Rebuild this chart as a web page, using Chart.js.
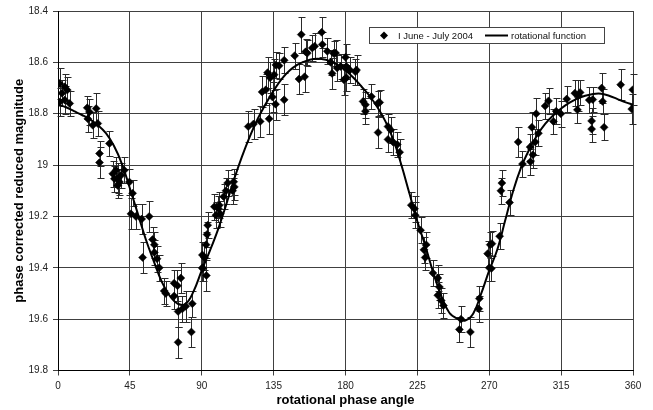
<!DOCTYPE html>
<html>
<head>
<meta charset="utf-8">
<script src="https://cdn.jsdelivr.net/npm/chart.js@4/dist/chart.umd.min.js"></script>
<style>
  body { margin: 0; background: #fff; }
  #wrap { width: 653px; height: 410px; }
</style>
</head>
<body>
<div id="wrap"><canvas id="grafico" width="653" height="410"></canvas></div>
<script>
// measured points: rotational phase (deg), reduced magnitude, error
const phase = [
  1.0, 1.0, 2.5, 4.2, 4.2, 5.8, 7.3, 18.3, 18.7, 19.7, 21.8, 23.9, 24.9, 26.0, 26.0, 32.2,
  34.3, 35.3, 36.4, 37.4, 37.4, 38.5, 39.5, 41.5, 44.7, 45.7, 46.7, 48.8, 52.4, 53.0, 57.1,
  59.2, 60.3, 60.3, 62.0, 63.4, 66.5, 67.5, 72.7, 72.7, 74.8, 75.2, 75.2, 76.9, 77.9, 80.0,
  83.5, 84.1, 90.4, 90.4, 90.6, 91.7, 92.7, 92.9, 93.3, 93.7, 97.9, 98.9, 100.4, 101.0, 101.6,
  103.7, 105.2, 106.2, 109.3, 110.0, 110.4, 119.1, 122.4, 126.6, 127.8, 130.1, 131.2, 132.2,
  132.8, 134.3, 135.3, 136.2, 136.4, 138.4, 141.6, 141.6, 148.2, 150.9, 152.3, 154.4, 155.0,
  156.1, 159.2, 160.7, 165.1, 165.5, 168.6, 170.7, 171.6, 172.5, 173.8, 174.8, 176.9, 179.0,
  180.0, 180.6, 180.6, 182.7, 186.2, 186.9, 191.0, 192.5, 192.5, 196.2, 200.1, 200.4, 201.4,
  206.6, 206.6, 208.3, 209.7, 212.4, 213.9, 221.2, 223.2, 223.7, 227.0, 229.1, 229.9, 230.5,
  234.7, 237.8, 237.8, 238.8, 239.9, 241.3, 251.3, 252.3, 258.2, 263.4, 263.8, 269.0, 270.0,
  270.6, 271.3, 271.7, 276.5, 277.3, 277.9, 282.7, 288.1, 290.8, 295.6, 295.8, 296.7, 297.3,
  298.8, 299.4, 300.8, 305.0, 307.1, 310.2, 311.9, 314.8, 318.5, 323.6, 325.2, 325.8, 326.9,
  332.6, 334.1, 334.1, 334.8, 340.4, 341.0, 341.9, 352.3, 359.2, 359.8
];
const mag = [
  18.682, 18.754, 18.72, 18.695, 18.747, 18.708, 18.76, 18.777, 18.82, 18.793, 18.845, 18.78, 18.838, 18.955, 18.99, 18.916,
  19.034, 19.053, 19.02, 19.05, 19.08, 19.066, 19.04, 19.02, 19.066, 19.19, 19.11, 19.2, 19.21, 19.36, 19.2,
  19.29, 19.31, 19.34, 19.365, 19.4, 19.49, 19.5, 19.46, 19.51, 19.47, 19.57, 19.69, 19.44, 19.56, 19.55,
  19.65, 19.54, 19.35, 19.4, 19.403, 19.36, 19.31, 19.43, 19.27, 19.234, 19.162, 19.195, 19.17, 19.156, 19.19,
  19.123, 19.1, 19.07, 19.1, 19.065, 19.085, 18.85, 18.84, 18.83, 18.715, 18.707, 18.64, 18.82,
  18.66, 18.735, 18.648, 18.763, 18.61, 18.613, 18.592, 18.746, 18.574, 18.665, 18.492, 18.656, 18.559,
  18.564, 18.544, 18.537, 18.483, 18.53, 18.557, 18.6, 18.643, 18.565, 18.564, 18.622, 18.616, 18.668,
  18.58, 18.616, 18.66, 18.63, 18.637, 18.63, 18.752, 18.765, 18.79, 18.733, 18.76, 18.873, 18.756,
  18.85, 18.9, 18.863, 18.91, 18.92, 18.95, 19.156, 19.17, 19.195, 19.254, 19.33, 19.36, 19.31,
  19.42, 19.44, 19.507, 19.475, 19.527, 19.547, 19.64, 19.6, 19.65, 19.56, 19.52, 19.345, 19.4,
  19.31, 19.403, 19.306, 19.277, 19.1, 19.07, 19.146, 18.91, 18.996, 18.93, 18.987, 18.853, 18.96,
  18.91, 18.8, 18.876, 18.77, 18.75, 18.83, 18.79, 18.8, 18.743, 18.72, 18.785, 18.73, 18.717,
  18.747, 18.828, 18.86, 18.745, 18.7, 18.752, 18.853, 18.687, 18.782, 18.707
];
const err = [
  0.06, 0.055, 0.05, 0.05, 0.055, 0.05, 0.05, 0.045, 0.05, 0.05, 0.05, 0.06, 0.05, 0.05, 0.06, 0.05,
  0.05, 0.05, 0.05, 0.06, 0.05, 0.05, 0.05, 0.05, 0.05, 0.06, 0.05, 0.05, 0.06, 0.06, 0.06,
  0.05, 0.05, 0.05, 0.05, 0.05, 0.05, 0.05, 0.05, 0.05, 0.06, 0.06, 0.06, 0.06, 0.05, 0.06,
  0.06, 0.05, 0.05, 0.05, 0.05, 0.05, 0.05, 0.06, 0.05, 0.05, 0.05, 0.05, 0.05, 0.05, 0.05,
  0.05, 0.05, 0.05, 0.05, 0.05, 0.05, 0.06, 0.06, 0.06, 0.06, 0.06, 0.06, 0.06,
  0.06, 0.06, 0.06, 0.06, 0.05, 0.05, 0.05, 0.06, 0.05, 0.06, 0.07, 0.06, 0.05,
  0.05, 0.05, 0.05, 0.06, 0.05, 0.05, 0.05, 0.06, 0.05, 0.05, 0.05, 0.05, 0.06,
  0.05, 0.05, 0.05, 0.05, 0.05, 0.06, 0.05, 0.05, 0.05, 0.05, 0.05, 0.06, 0.05,
  0.05, 0.05, 0.05, 0.05, 0.05, 0.05, 0.05, 0.05, 0.05, 0.05, 0.05, 0.05, 0.05,
  0.05, 0.05, 0.05, 0.05, 0.05, 0.05, 0.05, 0.05, 0.06, 0.05, 0.05, 0.05, 0.05,
  0.05, 0.05, 0.05, 0.05, 0.05, 0.05, 0.05, 0.06, 0.05, 0.05, 0.05, 0.06, 0.05,
  0.05, 0.06, 0.05, 0.05, 0.05, 0.05, 0.05, 0.05, 0.05, 0.05, 0.05, 0.06, 0.05,
  0.05, 0.05, 0.05, 0.05, 0.06, 0.05, 0.05, 0.06, 0.06, 0.06
];

// fitted rotational function, sampled every 5 deg
const fitPhase = [
  0, 5, 10, 15, 20, 25, 30, 35, 40, 45, 50, 55, 60, 65, 70, 75, 80, 85, 90, 95, 100, 105, 110, 115,
  120, 125, 130, 135, 140, 145, 150, 155, 160, 165, 170, 175, 180, 185, 190, 195, 200, 205, 210, 215,
  220, 225, 230, 235, 240, 245, 250, 255, 260, 265, 270, 275, 280, 285, 290, 295, 300, 305, 310, 315,
  320, 325, 330, 335, 340, 345, 350, 355, 360
];
const fitMag = [
  18.765, 18.775, 18.79, 18.805, 18.822, 18.845, 18.876, 18.925, 18.995, 19.09, 19.19, 19.29, 19.375, 19.455,
  19.51, 19.54, 19.54, 19.49, 19.41, 19.335, 19.254, 19.16, 19.06, 18.97, 18.89, 18.82, 18.762, 18.71,
  18.665, 18.632, 18.609, 18.595, 18.587, 18.587, 18.594, 18.61, 18.632, 18.66, 18.694, 18.73, 18.775,
  18.83, 18.902, 19.0, 19.11, 19.22, 19.315, 19.42, 19.51, 19.575, 19.598, 19.605, 19.578, 19.5, 19.41,
  19.33, 19.215, 19.1, 19.008, 18.94, 18.884, 18.84, 18.807, 18.78, 18.758, 18.741, 18.73, 18.723,
  18.722, 18.73, 18.742, 18.755, 18.765
];

const xTicks = [0, 45, 90, 135, 180, 225, 270, 315, 360];
const yTicks = [18.4, 18.6, 18.8, 19, 19.2, 19.4, 19.6, 19.8];
const serieLabel = "I June - July 2004";
const fitLabel = "rotational function";

const fonte = "'Liberation Sans', Arial, sans-serif";

// vertical error bars with caps, under the points
const errorBars = {
  id: 'errorBars',
  beforeDatasetsDraw(chart) {
    const { ctx, scales: { x, y } } = chart;
    ctx.save();
    ctx.strokeStyle = '#2a2a2a';
    ctx.lineWidth = 1;
    ctx.beginPath();
    phase.forEach((p, i) => {
      const px = Math.round(x.getPixelForValue(p)) + 0.5;
      const y1 = Math.round(y.getPixelForValue(mag[i] - err[i])) + 0.5;
      const y2 = Math.round(y.getPixelForValue(mag[i] + err[i])) + 0.5;
      ctx.moveTo(px, y1); ctx.lineTo(px, y2);
      ctx.moveTo(px - 3, y1); ctx.lineTo(px + 4, y1);
      ctx.moveTo(px - 3, y2); ctx.lineTo(px + 4, y2);
    });
    ctx.stroke();
    ctx.restore();
  }
};

// boxed legend inside the plot, top right
const legendaBox = {
  id: 'legendaBox',
  afterDraw(chart) {
    const ctx = chart.ctx;
    const bx = 369.5, by = 27.5, bw = 235, bh = 16;
    const cy = by + bh / 2;
    ctx.save();
    ctx.fillStyle = '#fff';
    ctx.fillRect(bx, by, bw, bh);
    ctx.strokeStyle = '#444';
    ctx.lineWidth = 1;
    ctx.strokeRect(bx, by, bw, bh);

    ctx.fillStyle = '#000';
    ctx.beginPath();
    ctx.moveTo(384, cy - 4); ctx.lineTo(388, cy); ctx.lineTo(384, cy + 4); ctx.lineTo(380, cy);
    ctx.closePath();
    ctx.fill();

    ctx.strokeStyle = '#000';
    ctx.lineWidth = 2;
    ctx.beginPath();
    ctx.moveTo(485, cy); ctx.lineTo(508, cy);
    ctx.stroke();

    ctx.font = "9.5px " + fonte;
    ctx.fillStyle = '#111';
    ctx.textBaseline = 'middle';
    ctx.fillText(serieLabel, 398, cy + 0.5);
    ctx.fillText(fitLabel, 511, cy + 0.5);
    ctx.restore();
  }
};

const ctx = document.getElementById("grafico").getContext("2d");

new Chart(ctx, {
  type: 'scatter',
  data: {
    datasets: [
      {
        label: serieLabel,
        data: phase.map((p, i) => ({ x: p, y: mag[i] })),
        pointStyle: 'rectRot',
        pointRadius: 4,
        backgroundColor: '#000',
        borderColor: '#000',
        borderWidth: 0.5
      },
      {
        label: fitLabel,
        data: fitPhase.map((p, i) => ({ x: p, y: fitMag[i] })),
        showLine: true,
        pointRadius: 0,
        borderColor: '#000',
        borderWidth: 2,
        tension: 0.4
      }
    ]
  },
  options: {
    responsive: false,
    animation: false,
    events: [],
    layout: { padding: { top: 11, right: 20, left: 0, bottom: 0 } },
    plugins: { legend: { display: false }, tooltip: { enabled: false } },
    scales: {
      x: {
        type: 'linear',
        min: 0,
        max: 360,
        afterBuildTicks: s => { s.ticks = xTicks.map(v => ({ value: v })); },
        afterFit: s => { s.height = 39.5; },
        grid: { color: '#404040', lineWidth: 1, tickLength: 5 },
        border: { color: '#000', width: 1 },
        ticks: { font: { size: 10, family: fonte }, color: '#222', padding: 5, maxRotation: 0, autoSkip: false },
        title: {
          display: true,
          text: 'rotational phase angle',
          font: { size: 13, weight: 'bold', family: fonte },
          color: '#000',
          padding: { top: 0, bottom: 2 }
        }
      },
      y: {
        type: 'linear',
        reverse: true,
        min: 18.4,
        max: 19.8,
        afterBuildTicks: s => { s.ticks = yTicks.map(v => ({ value: v })); },
        afterFit: s => { s.width = 58; },
        grid: { color: '#404040', lineWidth: 1, tickLength: 5 },
        border: { color: '#000', width: 1 },
        ticks: {
          font: { size: 10, family: fonte },
          color: '#222',
          padding: 5,
          callback: v => String(+v.toFixed(1))
        },
        title: {
          display: true,
          text: 'phase corrected reduced magnitude',
          font: { size: 13, weight: 'bold', family: fonte },
          color: '#000',
          padding: { top: 12, bottom: 0 }
        }
      }
    }
  },
  plugins: [errorBars, legendaBox]
});
</script>
</body>
</html>
